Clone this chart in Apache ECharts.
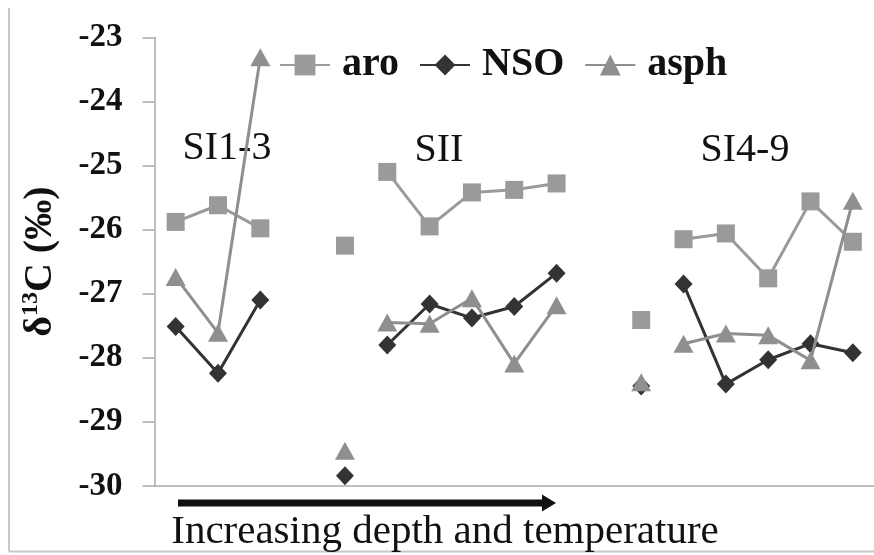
<!DOCTYPE html>
<html>
<head>
<meta charset="utf-8">
<script src="https://cdn.jsdelivr.net/npm/echarts@6/dist/echarts.min.js"></script>
<style>html,body{margin:0;padding:0;background:#fff;}#c{width:874px;height:555px;}</style>
</head>
<body>
<div id="c"></div>
<script>
// sample positions (gaps are empty slots in the original chart)
const categories = ['1','2','3','gap1','4','5','6','7','8','9','gap2','10','11','12','13','14','15'];
// connected groups
const aro  = [-25.88,-25.62,-25.98,null,null,-25.10,-25.95,-25.42,-25.38,-25.28,null,null,-26.15,-26.06,-26.76,-25.56,-26.19];
const nso  = [-27.51,-28.24,-27.10,null,null,-27.80,-27.16,-27.38,-27.20,-26.68,null,null,-26.85,-28.41,-28.03,-27.78,-27.92];
const asph = [-26.74,-27.61,-23.31,null,null,-27.45,-27.47,-27.07,-28.09,-27.18,null,null,-27.78,-27.62,-27.65,-28.04,-25.55];
// isolated (unconnected) samples
const aroIso  = [null,null,null,null,-26.25,null,null,null,null,null,null,-27.41,null,null,null,null,null];
const nsoIso  = [null,null,null,null,-29.84,null,null,null,null,null,null,-28.44,null,null,null,null,null];
const asphIso = [null,null,null,null,-29.45,null,null,null,null,null,null,-28.38,null,null,null,null,null];
const yTicks = [-30,-29,-28,-27,-26,-25,-24,-23];
const groupLabels = ['SI1-3','SII','SI4-9'];
const arrowText = 'Increasing depth and temperature';

const serif = '"Liberation Serif", "Times New Roman", serif';
const chart = echarts.init(document.getElementById('c'));
function mk(name, data, symbol, size, color, z, noLine){
  return {
    name, type:'line', data, symbol, symbolSize:size, showAllSymbol:true, connectNulls:false,
    itemStyle:{color:color}, lineStyle:{color:color, width:noLine?0:3, opacity:noLine?0:1}, z:z, animation:false
  };
}
chart.setOption({
  animation:false,
  grid:{left:154.5, right:-11.5, top:37.3, bottom:69},
  legend:{
    left:274, top:40, itemWidth:50, itemHeight:26, itemGap:20,
    textStyle:{fontFamily:serif, fontWeight:'bold', fontSize:40, color:'#111', padding:[0,0,0,7]},
    data:['aro','NSO','asph']
  },
  xAxis:{
    type:'category', data:categories, boundaryGap:true,
    axisLabel:{show:false}, axisTick:{show:false},
    axisLine:{lineStyle:{color:'#aaa', width:1.5}}, splitLine:{show:false}
  },
  yAxis:{
    type:'value', min:yTicks[0], max:yTicks[yTicks.length-1], interval:1,
    axisLine:{show:true, lineStyle:{color:'#aaa', width:1.5}},
    axisTick:{show:true, inside:false, length:12, lineStyle:{color:'#aaa', width:1.5}},
    splitLine:{show:false},
    axisLabel:{margin:32, fontFamily:serif, fontWeight:'bold', fontSize:33, color:'#111'},
    name:'{d|δ}{s|13}{d|C (‰)}', nameLocation:'middle', nameGap:92, nameRotate:90,
    nameTextStyle:{
      rich:{
        d:{fontFamily:serif, fontWeight:'bold', fontSize:40, color:'#111', lineHeight:44},
        s:{fontFamily:serif, fontWeight:'bold', fontSize:24, color:'#111', verticalAlign:'top', lineHeight:44}
      }
    }
  },
  series:[
    mk('aro', aro, 'rect', 18, '#9a9a9a', 2),
    mk('NSO', nso, 'diamond', [18,19], '#333333', 3),
    mk('asph', asph, 'triangle', [20,18], '#8f8f8f', 4),
    mk('aro-isolated', aroIso, 'rect', 18, '#9a9a9a', 2, true),
    mk('NSO-isolated', nsoIso, 'diamond', [18,19], '#333333', 3, true),
    mk('asph-isolated', asphIso, 'triangle', [20,18], '#8f8f8f', 4, true)
  ],
  graphic:[
    {type:'line', shape:{x1:9, y1:8, x2:9, y2:551.5}, style:{stroke:'#c8c8c8', lineWidth:2}, silent:true},
    {type:'line', shape:{x1:9, y1:551.5, x2:874, y2:551.5}, style:{stroke:'#c8c8c8', lineWidth:2}, silent:true},
    {type:'text', x:227, y:148, style:{text:groupLabels[0], font:'40px "Liberation Serif"', fill:'#111', align:'center', verticalAlign:'middle'}},
    {type:'text', x:439, y:150, style:{text:groupLabels[1], font:'40px "Liberation Serif"', fill:'#111', align:'center', verticalAlign:'middle'}},
    {type:'text', x:745, y:150, style:{text:groupLabels[2], font:'40px "Liberation Serif"', fill:'#111', align:'center', verticalAlign:'middle'}},
    {type:'line', shape:{x1:178, y1:503, x2:546, y2:503}, style:{stroke:'#111', lineWidth:7}, silent:true},
    {type:'polygon', shape:{points:[[542,494.5],[556,503],[542,511.5]]}, style:{fill:'#111'}, silent:true},
    {type:'text', x:445, y:532, style:{text:arrowText, font:'41px "Liberation Serif"', fill:'#111', align:'center', verticalAlign:'middle'}}
  ]
});
</script>
</body>
</html>
